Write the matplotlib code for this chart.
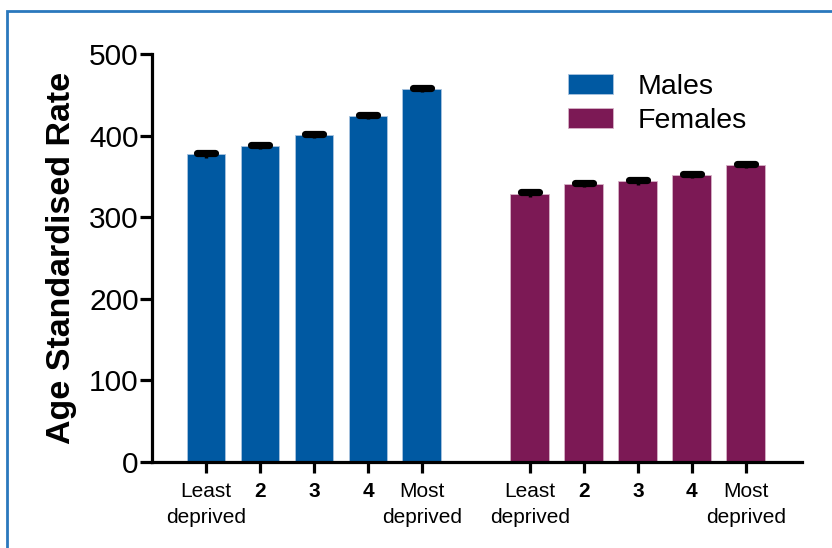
import numpy as np
import matplotlib
matplotlib.use("Agg")
import matplotlib.pyplot as plt
from matplotlib.patches import Rectangle

plt.rcParams['font.family'] = ['Liberation Sans', 'DejaVu Sans']

# Data
quintiles = ["Least\ndeprived", "2", "3", "4", "Most\ndeprived"]
males = [377, 387, 401, 424, 457]
females = [329, 341, 344, 352, 364]
males_err = [2, 2, 2, 2, 2]
females_err = [2, 2, 2, 2, 2]

blue = "#0059a2"
purple = "#7c1955"

fig = plt.figure(figsize=(8.32, 5.48), dpi=100)
ax = fig.add_axes([152 / 832, 86 / 548, 650 / 832, 408 / 548])

x_m = np.arange(5)
x_f = np.arange(5) + 6
w = 0.72

ax.bar(x_m, males, width=w, color=blue, edgecolor="#a9c4df", linewidth=0.6,
       label="Males", zorder=2)
ax.bar(x_f, females, width=w, color=purple, edgecolor="#d7b3c8", linewidth=0.6,
       label="Females", zorder=2)

# error bars with rounded caps
for xs, ys, es in ((x_m, males, males_err), (x_f, females, females_err)):
    ys = np.array(ys)
    es = np.array(es)
    ax.vlines(xs, ys - es - 2, ys + es, color="black", linewidth=2.5, zorder=3)
    caps = ax.hlines(ys + es - 0.5, xs - 0.17, xs + 0.17, color="black",
                     linewidth=5.2, zorder=3)
    caps.set_capstyle("round")

ax.set_xlim(-1, 11.04)
ax.set_ylim(0, 500)
ax.set_yticks([0, 100, 200, 300, 400, 500])
ax.set_xticks(np.concatenate([x_m, x_f]))
ax.set_xticklabels(quintiles + quintiles, fontsize=15, linespacing=1.45)
for lab in ax.get_xticklabels():
    if lab.get_text() in ("2", "3", "4"):
        lab.set_fontweight("bold")

for side in ("top", "right"):
    ax.spines[side].set_visible(False)
for side in ("left", "bottom"):
    ax.spines[side].set_linewidth(2.3)
ax.tick_params(axis="y", labelsize=21.5, width=2.3, length=8.5, pad=1)
ax.tick_params(axis="x", width=2.3, length=8, pad=6.5)

ax.set_ylabel("Age Standardised Rate", fontsize=24.5, fontweight="bold", labelpad=9)

ax.legend(loc="upper left", bbox_to_anchor=(0.6, 1.015), frameon=False,
          fontsize=20.5, handlelength=1.6, handleheight=0.7,
          handletextpad=0.85, labelspacing=0.3)

# blue frame around the figure
fig.patches.append(Rectangle((7 / 832, -0.05), 1.1, 1 - 11 / 548 + 0.05,
                             transform=fig.transFigure, fill=False,
                             edgecolor="#2a78bd", linewidth=2))

fig.savefig("out.png", dpi=100)
